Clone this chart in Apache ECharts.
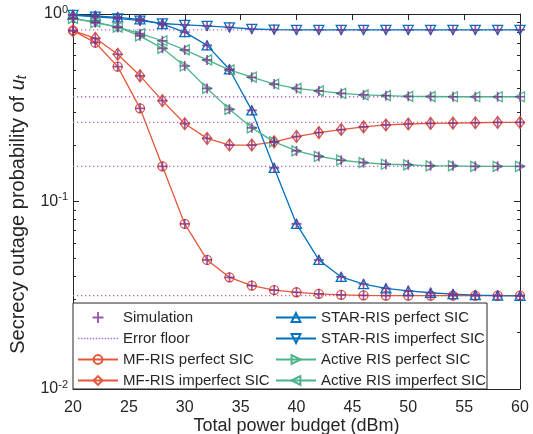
<!DOCTYPE html>
<html><head><meta charset="utf-8">
<script src="https://cdn.jsdelivr.net/npm/echarts@6/dist/echarts.min.js"></script>
<style>html,body{margin:0;padding:0;background:#fff}#c{width:533px;height:434px}</style>
</head><body><div id="c"></div>
<script>
// ---- data ----
const power = [20,22,24,26,28,30,32,34,36,38,40,42,44,46,48,50,52,54,56,58,60];
const mfPerfect = [0.815,0.703,0.524,0.314,0.154,0.0759,0.0488,0.0394,0.0356,0.0337,0.0328,0.0322,0.0318,0.0316,0.0315,0.0315,0.0315,0.0315,0.0315,0.0315,0.0315];
const mfImperfect = [0.815,0.742,0.61,0.468,0.345,0.26,0.217,0.2,0.2,0.208,0.222,0.233,0.242,0.25,0.256,0.259,0.261,0.262,0.263,0.264,0.264];
const starPerfect = [0.988,0.976,0.96,0.937,0.884,0.80,0.68,0.506,0.306,0.151,0.0759,0.0488,0.0396,0.0363,0.0344,0.0334,0.0326,0.0321,0.0317,0.0315,0.0314];
const starImperfect = [0.988,0.967,0.948,0.921,0.89,0.875,0.864,0.849,0.832,0.826,0.822,0.822,0.822,0.822,0.822,0.822,0.822,0.822,0.822,0.822,0.822];
const activePerfect = [0.948,0.90,0.85,0.765,0.656,0.528,0.401,0.31,0.247,0.208,0.186,0.174,0.166,0.161,0.158,0.157,0.155,0.155,0.154,0.154,0.154];
const activeImperfect = [0.948,0.905,0.85,0.785,0.72,0.643,0.569,0.503,0.46,0.423,0.401,0.389,0.377,0.37,0.367,0.364,0.363,0.362,0.362,0.362,0.362];
const errorFloor = [0.822, 0.362, 0.264, 0.154, 0.0315];
const yMinorTicks = [0.02,0.03,0.04,0.05,0.06,0.07,0.08,0.09,0.2,0.3,0.4,0.5,0.6,0.7,0.8,0.9];
const legendLeft = ['Simulation','Error floor','MF-RIS perfect SIC','MF-RIS imperfect SIC'];
const legendRight = ['STAR-RIS perfect SIC','STAR-RIS imperfect SIC','Active RIS perfect SIC','Active RIS imperfect SIC'];

// ---- styles ----
const RED = '#E4573A', BLUE = '#0072BD', GREEN = '#4DB38A', PURPLE = '#7E2F8E', FLOOR = '#B266CC', INK = '#262626';
const FONT = 'Liberation Sans, Arial, sans-serif';
const PLUS = 'path://M8.3,0h3.4v20h-3.4z M0,8.3h20v3.4h-20z';
let dots = '';
for (let i = 0; i < 14; i++) dots += 'M' + (i * 3) + ',0h1.4v1.4h-1.4z ';
const DOTTED = 'path://' + dots;

const curves = [
  {name:'MF-RIS perfect SIC', data:mfPerfect, color:RED, symbol:'circle', size:9, rot:0},
  {name:'MF-RIS imperfect SIC', data:mfImperfect, color:RED, symbol:'diamond', size:[9,12], rot:0},
  {name:'STAR-RIS perfect SIC', data:starPerfect, color:BLUE, symbol:'triangle', size:[10,9], rot:0},
  {name:'STAR-RIS imperfect SIC', data:starImperfect, color:BLUE, symbol:'triangle', size:[10,9], rot:180},
  {name:'Active RIS perfect SIC', data:activePerfect, color:GREEN, symbol:'triangle', size:[10,9], rot:-90},
  {name:'Active RIS imperfect SIC', data:activeImperfect, color:GREEN, symbol:'triangle', size:[10,9], rot:90}
];
const pair = arr => power.map((p, i) => [p, arr[i]]);

const series = [];
errorFloor.forEach(v => series.push({
  type:'line', name:'Error floor', data:[[power[0], v],[power[power.length-1], v]],
  symbol:'none', silent:true, z:2,
  itemStyle:{color:FLOOR}, lineStyle:{color:FLOOR, width:1.3, type:[1.3,2.7]}
}));
curves.forEach(c => series.push({
  type:'line', name:c.name, data:pair(c.data), symbol:c.symbol, symbolSize:c.size, symbolRotate:c.rot,
  showAllSymbol:true, silent:true, z:3,
  lineStyle:{color:c.color, width:1.3},
  itemStyle:{color:'transparent', borderColor:c.color, borderWidth:1.3}
}));
series.push({
  type:'scatter', name:'Simulation', data:curves.flatMap(c => pair(c.data)),
  symbol:PLUS, symbolSize:10, silent:true, z:5, itemStyle:{color:PURPLE}
});

const legendCommon = {
  orient:'vertical', padding:0, itemWidth:40, itemHeight:11, itemGap:6,
  textStyle:{fontFamily:FONT, fontSize:15, color:INK, lineHeight:15},
  selectedMode:false, z:10
};

const yBase = {type:'log', logBase:10, min:0.01, max:1, splitLine:{show:false}};
const chart = echarts.init(document.getElementById('c'), null, {renderer:'canvas'});
chart.setOption({
  animation:false,
  backgroundColor:'#fff',
  grid:{left:73, right:13, top:14, bottom:45, containLabel:false, outerBoundsMode:'none'},
  xAxis:[
    {type:'value', min:20, max:60, interval:5, position:'bottom',
     name:'Total power budget (dBm)', nameLocation:'middle', nameGap:28, nameMoveOverlap:false,
     nameTextStyle:{fontFamily:FONT, fontSize:18, color:INK},
     axisLine:{lineStyle:{color:INK, width:1}},
     axisTick:{inside:true, length:6, lineStyle:{color:INK}},
     axisLabel:{fontFamily:FONT, fontSize:16, color:INK, margin:11},
     splitLine:{show:false}},
    {type:'value', min:20, max:60, interval:5, position:'top',
     axisLine:{lineStyle:{color:INK, width:1}},
     axisTick:{inside:true, length:6, lineStyle:{color:INK}},
     axisLabel:{show:false}, splitLine:{show:false}}
  ],
  yAxis:[
    Object.assign({}, yBase, {position:'left',
     name:'Secrecy outage probability of {i|u}{t|t}', nameLocation:'middle', nameGap:44, nameMoveOverlap:false,
     nameTextStyle:{fontFamily:FONT, fontSize:20, color:INK, padding:[0,26,0,0],
       rich:{i:{fontFamily:FONT, fontSize:20, fontStyle:'italic', color:INK},
             t:{fontFamily:FONT, fontSize:14, fontStyle:'italic', color:INK, verticalAlign:'bottom', padding:[7,0,0,0]}}},
     axisLine:{lineStyle:{color:INK, width:1}},
     axisTick:{inside:true, length:6, lineStyle:{color:INK}},
     axisLabel:{margin:5, color:INK, fontFamily:FONT,
       formatter: v => '{b|10}{s|' + Math.round(Math.log10(v)) + '}',
       rich:{b:{fontFamily:FONT, fontSize:16, color:INK},
             s:{fontFamily:FONT, fontSize:11, color:INK, verticalAlign:'bottom', padding:[0,0,9,0]}}}}),
    Object.assign({}, yBase, {position:'left',
     axisLine:{show:false},
     axisTick:{inside:true, length:3, customValues:yMinorTicks, lineStyle:{color:INK}},
     axisLabel:{show:false}}),
    Object.assign({}, yBase, {position:'right',
     axisLine:{lineStyle:{color:INK, width:1}},
     axisTick:{inside:true, length:6, lineStyle:{color:INK}},
     axisLabel:{show:false}}),
    Object.assign({}, yBase, {position:'right',
     axisLine:{show:false},
     axisTick:{inside:true, length:3, customValues:yMinorTicks, lineStyle:{color:INK}},
     axisLabel:{show:false}})
  ],
  graphic:[{type:'rect', z:8, shape:{x:73, y:303, width:414, height:86},
    style:{fill:'#fff', stroke:INK, lineWidth:1}}],
  legend:[
    Object.assign({}, legendCommon, {left:77, top:310,
      data:legendLeft.map(n => n === 'Error floor' ? {name:n, icon:DOTTED} : n)}),
    Object.assign({}, legendCommon, {left:275, top:310, data:legendRight})
  ],
  series: series
});
</script>
</body></html>
